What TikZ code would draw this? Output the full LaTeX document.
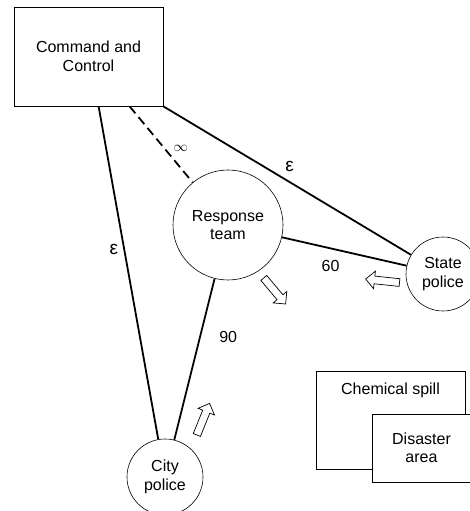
\documentclass[tikz,border=0pt]{standalone}
\usepackage{fontspec}
\setsansfont{Liberation Sans}
\usetikzlibrary{positioning,shapes.arrows}

\begin{document}
\begin{tikzpicture}[
  block/.style={rectangle, draw, line width=0.8pt, minimum width=149pt, minimum height=99pt, align=center},
  station/.style={circle, draw, line width=0.6pt, align=center, inner sep=0pt},
  link/.style={line width=1.8pt},
  flow/.style={single arrow, draw, line width=0.7pt, minimum height=34pt, inner sep=3.5pt, single arrow head extend=5pt},
  greek/.style={font=\sffamily\fontsize{19}{19}\selectfont},
  font=\sffamily\fontsize{16}{18.5}\selectfont,
  x=1pt, y=1pt
]
\useasboundingbox (0,0) rectangle (469,511);
\node[block] (cmd) at (88.5,454.5) {Command and\\Control};
\node[station, minimum size=110pt, right of=cmd, node distance=139.5pt, yshift=-168.5pt] (resp) {Response\\team};
\node[station, minimum size=74pt, right of=resp, node distance=215pt, yshift=-49pt] (state) {State\\police};
\node[station, minimum size=76pt, below of=resp, node distance=252pt, xshift=-63pt] (city) {City\\police};
\node[block, below of=state, node distance=146pt, xshift=-52.5pt, minimum height=98pt,
  label={[name=chemtxt, anchor=north, yshift=-9pt]north:Chemical spill}] (chem) {};
\node[block, fill=white, minimum width=99pt, minimum height=68pt, right of=chem, node distance=31pt, yshift=-28pt] (area) {Disaster\\area};

\coordinate (cmdA) at ([xshift=85pt]cmd.south west);
\coordinate (cmdB) at ([xshift=116pt]cmd.south west);

\draw[link] (cmdA) -- node[greek, pos=0.43, left=2pt] {ε} (city);
\draw[link, dash pattern=on 9pt off 5pt] (cmdB) -- node[pos=0.55, right=5pt, font=\fontsize{14}{14}\selectfont] {$\infty$} (resp);
\draw[link] (cmd.south east) -- node[greek, pos=0.51, above=6pt] {ε} (state);
\draw[link] (resp) -- node[pos=0.39, below=7.5pt] {60} (state);
\draw[link] (resp) -- node[pos=0.36, right=15pt] {90} (city);

% hollow flow arrows
\node[flow, rotate=-50] (toarea) at (273.5,221.5) {};
\node[flow, rotate=174] (fromstate) at (384.5,230) {};
\node[flow, rotate=68] (fromcity) at (202.5,90) {};
\end{tikzpicture}
\end{document}
